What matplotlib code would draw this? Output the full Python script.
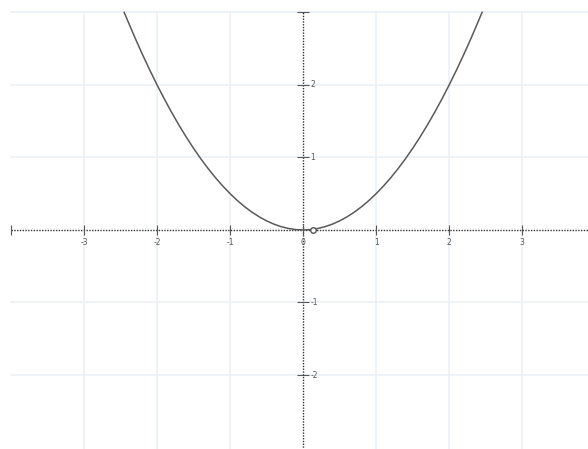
import matplotlib
matplotlib.use("Agg")
import matplotlib.pyplot as plt

# curve points
curve_x = [-2.45, -2.4, -2.3, -2.2, -2.1, -2.0, -1.9, -1.8, -1.7, -1.6, -1.5, -1.4, -1.3,
           -1.2, -1.1, -1.0, -0.9, -0.8, -0.7, -0.6, -0.5, -0.4, -0.3, -0.2, -0.1, 0.0,
           0.1, 0.2, 0.3, 0.4, 0.5, 0.6, 0.7, 0.8, 0.9, 1.0, 1.1, 1.2, 1.3, 1.4, 1.5,
           1.6, 1.7, 1.8, 1.9, 2.0, 2.1, 2.2, 2.3, 2.4, 2.45]
curve_y = [3.0, 2.88, 2.645, 2.42, 2.205, 2.0, 1.805, 1.62, 1.445, 1.28, 1.125, 0.98, 0.845,
           0.72, 0.605, 0.5, 0.405, 0.32, 0.245, 0.18, 0.125, 0.08, 0.045, 0.02, 0.005, 0.0,
           0.005, 0.02, 0.045, 0.08, 0.125, 0.18, 0.245, 0.32, 0.405, 0.5, 0.605, 0.72, 0.845,
           0.98, 1.125, 1.28, 1.445, 1.62, 1.805, 2.0, 2.205, 2.42, 2.645, 2.88, 3.0]

point_x = [0.13]
point_y = [0.0]

x_ticks = [-3, -2, -1, 0, 1, 2, 3]
x_tick_labels = ["-3", "-2", "-1", "0", "1", "2", "3"]
y_ticks = [-2, -1, 1, 2]
y_tick_labels = ["-2", "-1", "1", "2"]
grid_x = [-3, -2, -1, 1, 2, 3]
grid_y = [-2, -1, 1, 2, 3]

fig = plt.figure(figsize=(5.88, 4.49), dpi=100)
ax = fig.add_axes([0, 0, 1, 1])
ax.set_xlim(-4.15, 3.90)
ax.set_ylim(-3.02, 3.17)
ax.axis("off")

grid_color = "#e9f0f5"
for gx in grid_x:
    ax.plot([gx, gx], [-3.1, 3.0], color=grid_color, lw=1.1, zorder=1)
for gy in grid_y:
    ax.plot([-4.0, 4.0], [gy, gy], color=grid_color, lw=1.1, zorder=1)

# axes (dotted)
ax.plot([-4.0, 4.0], [0, 0], color="#333333", lw=1.0, linestyle=(0, (1, 1)), zorder=2)
ax.plot([0, 0], [-3.1, 3.0], color="#333333", lw=1.0, linestyle=(0, (1, 1)), zorder=2)

# tick marks
ax.plot(x_ticks + [-4], [0] * (len(x_ticks) + 1), linestyle="none", marker="|",
        markersize=7, color="#555555", mew=0.8, zorder=3)
ax.plot([0] * len(y_ticks + [3]), y_ticks + [3], linestyle="none", marker="_",
        markersize=9, color="#555555", mew=0.8, zorder=3)

for t, lab in zip(x_ticks, x_tick_labels):
    ax.text(t, -0.17, lab, ha="center", va="center", fontsize=5.5, color="#555555")
for t, lab in zip(y_ticks, y_tick_labels):
    ax.text(0.1, t, lab, ha="left", va="center", fontsize=5.5, color="#555555")

# curve
ax.plot(curve_x, curve_y, color="#5a5a5a", lw=1.1, zorder=4)
ax.plot(point_x, point_y, linestyle="none", marker="o", markersize=4,
        markerfacecolor="white", markeredgecolor="#555555", mew=1.0, zorder=5)

fig.savefig("out.png", dpi=100)
